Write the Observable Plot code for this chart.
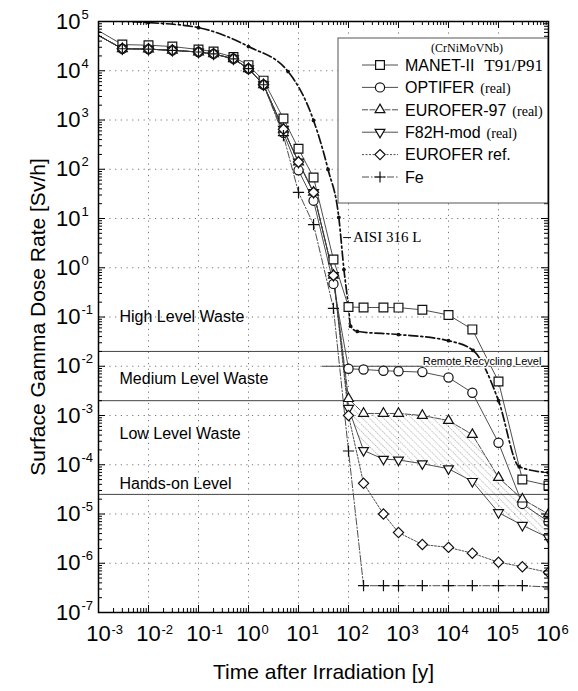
<!DOCTYPE html>
<html>
<head>
<meta charset="utf-8">
<script src="https://cdn.jsdelivr.net/npm/d3@7"></script>
<script src="https://cdn.jsdelivr.net/npm/@observablehq/plot@0.6"></script>
<style>
  body { margin: 0; background: #fff; }
</style>
</head>
<body>
<div id="chart"></div>
<script>
// Decay times after irradiation [years]
const times = [0.001, 0.003, 0.01, 0.03, 0.1, 0.2, 0.5, 1, 2, 5, 10, 20, 50, 100, 200, 500, 1e3, 3e3, 1e4, 3e4, 1e5, 3e5, 1e6];

// Surface gamma dose rate [Sv/h] for each steel
const manetII    = [6.5e4, 3.4e4, 3.3e4, 3.1e4, 2.7e4, 2.45e4, 1.9e4, 1.3e4, 6.3e3, 1.07e3, 2.6e2, 6.8e1, 1.47, 0.16, 0.156, 0.156, 0.155, 0.14, 0.11, 0.056, 4.9e-3, 5.0e-5, 3.8e-5];
const optifer    = [5.2e4, 2.8e4, 2.75e4, 2.6e4, 2.4e4, 2.2e4, 1.75e4, 1.1e4, 5.2e3, 5.5e2, 9.5e1, 2.3e1, 0.47, 8.9e-3, 8.6e-3, 8.1e-3, 7.9e-3, 7.6e-3, 5.9e-3, 2.9e-3, 2.8e-4, 1.6e-5, 7.0e-6];
const eurofer97  = [5.2e4, 2.8e4, 2.75e4, 2.6e4, 2.4e4, 2.2e4, 1.75e4, 1.1e4, 5.2e3, 6.5e2, 1.4e2, 3.4e1, 0.7, 2.2e-3, 1.1e-3, 1.1e-3, 1.1e-3, 1.0e-3, 7.9e-4, 4.1e-4, 5.5e-5, 2.0e-5, 1.0e-5];
const f82hMod    = [5.2e4, 2.8e4, 2.75e4, 2.6e4, 2.4e4, 2.2e4, 1.75e4, 1.1e4, 5.2e3, 6.5e2, 1.4e2, 3.4e1, 0.7, 1.4e-3, 1.95e-4, 1.3e-4, 1.25e-4, 1.05e-4, 8.3e-5, 4.6e-5, 1.07e-5, 5.9e-6, 3.3e-6];
const euroferRef = [5.2e4, 2.8e4, 2.75e4, 2.6e4, 2.4e4, 2.2e4, 1.75e4, 1.1e4, 5.2e3, 6.5e2, 1.4e2, 3.4e1, 0.7, 1.0e-3, 4.2e-5, 1.0e-5, 4.2e-6, 2.4e-6, 2.1e-6, 1.6e-6, 1.05e-6, 8.5e-7, 6.5e-7];
const iron       = [5.2e4, 2.8e4, 2.75e4, 2.6e4, 2.4e4, 2.2e4, 1.75e4, 1.1e4, 5.2e3, 4.8e2, 3.4e1, 7.5, 0.15, 1.9e-4, 3.5e-7, 3.5e-7, 3.5e-7, 3.5e-7, 3.5e-7, 3.5e-7, 3.5e-7, 3.5e-7, 3.3e-7];

// Austenitic reference steel
const aisiTimes = [0.001, 0.01, 0.1, 1, 6.2, 20, 39, 64, 81, 100, 110, 150, 1e3, 1e4, 3.1e4, 1e5, 2.6e5, 1e6];
const aisiDose  = [1.05e5, 9.5e4, 7.5e4, 3.1e4, 9.6e3, 980, 99, 10.5, 0.92, 0.16, 0.065, 0.051, 0.044, 0.033, 0.021, 2.0e-3, 9.1e-5, 6.9e-5];
const aisiName = "AISI 316 L";
const aisiLabelTime = 123;
const aisiLabelDose = 4.1;

const seriesNames = ["MANET-II", "OPTIFER", "EUROFER-97", "F82H-mod", "EUROFER ref.", "Fe"];
const seriesNotes = ["T91/P91", "(real)", "(real)", "(real)", "", ""];
const seriesValues = [manetII, optifer, eurofer97, f82hMod, euroferRef, iron];
const legendHeader = "(CrNiMoVNb)";

// Waste classification limits [Sv/h]
const wasteLevels = [2e-2, 2e-3, 2.5e-5];
const remoteRecyclingLevel = 1e-2;
const remoteRecyclingFrom = 30;
const remoteRecyclingText = "Remote Recycling Level";
const zoneLabels = ["High Level Waste", "Medium Level Waste", "Low Level Waste", "Hands-on Level"];
const zoneLabelDose = [0.1, 5.6e-3, 4.3e-4, 4.0e-5];

// Axis decades
const xDecades = [1e-3, 1e-2, 1e-1, 1, 1e1, 1e2, 1e3, 1e4, 1e5, 1e6];
const yDecades = [1e-7, 1e-6, 1e-5, 1e-4, 1e-3, 1e-2, 1e-1, 1, 1e1, 1e2, 1e3, 1e4, 1e5];
const xTitle = "Time after Irradiation [y]";
const yTitle = "Surface Gamma Dose Rate [Sv/h]";

// ---- drawing ----
const SANS = "'Liberation Sans', Arial, Helvetica, sans-serif";
const SERIF = "'Liberation Serif', 'Times New Roman', serif";

const styles = [
  {symbol: "square2",   r: 5.6, rotate: 0,   dash: null},
  {symbol: "circle",    r: 4.6, rotate: 0,   dash: null},
  {symbol: "triangle2", r: 4.7, rotate: 0,   dash: "6,1.5"},
  {symbol: "triangle2", r: 4.7, rotate: 180, dash: null},
  {symbol: "diamond2",  r: 4.6, rotate: 0,   dash: "2,1.5"},
  {symbol: "plus",      r: 3.7, rotate: 0,   dash: "7,2,1.5,2"}
];
const d3Symbols = {
  square2: d3.symbolSquare2, circle: d3.symbolCircle, triangle2: d3.symbolTriangle2,
  diamond2: d3.symbolDiamond2, plus: d3.symbolPlus
};

const series = seriesNames.map((name, i) =>
  times.map((t, j) => ({name, t, v: seriesValues[i][j]})));
const aisi = aisiTimes.map((t, j) => ({t, v: aisiDose[j]}));

// hatched band between EUROFER-97 and F82H-mod from 100 y on
const band = times.map((t, j) => ({t, hi: eurofer97[j], lo: f82hMod[j]})).filter(d => d.t >= 100);

const minorOf = (decades) => decades.slice(0, -1).flatMap(d => d3.range(2, 10).map(k => k * d));
const xMinor = minorOf(xDecades);
const yMinor = minorOf(yDecades);
const expo = d => String(Math.round(Math.log10(d)));

const W = 578, H = 691, mL = 98, mR = 30, mT = 21, mB = 79;
const innerH = H - mT - mB, innerW = W - mL - mR;
const MAJ = 7, MIN = 4;

const lineMarks = series.map((rows, i) => Plot.line(rows, {
  x: "t", y: "v", stroke: "#3a3a3a", strokeWidth: 0.9,
  strokeDasharray: styles[i].dash, clip: "frame"
}));
const dotMarks = series.map((rows, i) => Plot.dot(rows.filter(d => d.t > 0.001), {
  x: "t", y: "v", symbol: styles[i].symbol, r: styles[i].r, rotate: styles[i].rotate,
  stroke: "#111", strokeWidth: 1.2, fill: "white", clip: "frame"
}));

const chart = Plot.plot({
  width: W, height: H,
  marginLeft: mL, marginRight: mR, marginTop: mT, marginBottom: mB,
  x: {type: "log", domain: [1e-3, 1e6], axis: null},
  y: {type: "log", domain: [1e-7, 1e5], axis: null},
  style: {fontFamily: SANS, background: "white", color: "black"},
  marks: [
    // dotted decade grid
    Plot.ruleX(xDecades.slice(1, -1), {stroke: "#777", strokeWidth: 1, strokeDasharray: "1.2,4.5"}),
    Plot.ruleY(yDecades.slice(1, -1), {stroke: "#777", strokeWidth: 1, strokeDasharray: "1.2,4.5"}),
    // waste class limits
    Plot.ruleY(wasteLevels, {stroke: "#444", strokeWidth: 1}),
    Plot.ruleY([remoteRecyclingLevel], {x1: remoteRecyclingFrom, x2: 1e6, stroke: "#444", strokeWidth: 1}),
    // band
    Plot.areaY(band, {x: "t", y1: "lo", y2: "hi", fill: "url(#hatch)", clip: "frame"}),
    ...lineMarks,
    Plot.line(aisi, {x: "t", y: "v", stroke: "#111", strokeWidth: 1.7, strokeDasharray: "9,3,2,3", curve: "monotone-x", clip: "frame"}),
    Plot.dot(aisi, {x: "t", y: "v", r: 1.9, fill: "#111", clip: "frame"}),
    ...dotMarks,
    // annotations
    Plot.ruleY([aisiLabelDose], {x1: 80, x2: 115, stroke: "#111", strokeWidth: 1}),
    Plot.text([aisiName], {x: aisiLabelTime, y: aisiLabelDose, textAnchor: "start", fontFamily: SERIF, fontSize: 15}),
    Plot.text([remoteRecyclingText], {x: 4.7e4, y: 1.25e-2, fontSize: 11, stroke: "white", strokeWidth: 3, paintOrder: "stroke", fill: "black"}),
    Plot.text(zoneLabels, {y: (d, i) => zoneLabelDose[i], frameAnchor: "left", dx: 21, textAnchor: "start", fontSize: 16}),
    // tick marks, inward on all four sides
    Plot.ruleX(xDecades, {insetTop: innerH - MAJ, stroke: "black", ariaLabel: "axis-tick"}),
    Plot.ruleX(xDecades, {insetBottom: innerH - MAJ, stroke: "black", ariaLabel: "axis-tick"}),
    Plot.ruleX(xMinor, {insetTop: innerH - MIN, stroke: "black", ariaLabel: "axis-tick"}),
    Plot.ruleX(xMinor, {insetBottom: innerH - MIN, stroke: "black", ariaLabel: "axis-tick"}),
    Plot.ruleY(yDecades, {insetRight: innerW - MAJ, stroke: "black", ariaLabel: "axis-tick"}),
    Plot.ruleY(yDecades, {insetLeft: innerW - MAJ, stroke: "black", ariaLabel: "axis-tick"}),
    Plot.ruleY(yMinor, {insetRight: innerW - MIN, stroke: "black", ariaLabel: "axis-tick"}),
    Plot.ruleY(yMinor, {insetLeft: innerW - MIN, stroke: "black", ariaLabel: "axis-tick"}),
    Plot.frame({stroke: "black", strokeWidth: 1.5, ariaLabel: "axis-tick"}),
    // tick labels with exponents
    Plot.text(xDecades, {x: d => d, frameAnchor: "bottom", dy: 28, text: () => "10", fontSize: 22}),
    Plot.text(xDecades, {x: d => d, frameAnchor: "bottom", dy: 21, dx: 13, textAnchor: "start", text: expo, fontSize: 13}),
    Plot.text(yDecades, {y: d => d, frameAnchor: "left", dx: -18, textAnchor: "end", text: () => "10", fontSize: 22}),
    Plot.text(yDecades, {y: d => d, frameAnchor: "left", dx: -17, dy: -7, textAnchor: "start", text: expo, fontSize: 13}),
    // axis titles
    Plot.text([xTitle], {frameAnchor: "bottom", dy: 66, fontSize: 21}),
    Plot.text([yTitle], {frameAnchor: "left", dx: -60, rotate: -90, textAnchor: "middle", fontSize: 21})
  ]
});

const svg = d3.select(chart);

// hatch pattern used by the band
const pat = svg.insert("defs", ":first-child").append("pattern")
  .attr("id", "hatch").attr("patternUnits", "userSpaceOnUse")
  .attr("width", 5).attr("height", 5).attr("patternTransform", "rotate(-45)");
pat.append("line").attr("x1", 0).attr("y1", 0).attr("x2", 0).attr("y2", 5)
  .attr("stroke", "#666").attr("stroke-width", 0.8).attr("stroke-dasharray", "1.6,0.9");

// legend
const lg = svg.append("g").attr("font-family", SANS).attr("text-anchor", "start");
lg.append("rect").attr("x", 338).attr("y", 38).attr("width", 210).attr("height", 165)
  .attr("fill", "white").attr("stroke", "#555").attr("stroke-width", 1);
lg.append("text").attr("x", 467).attr("y", 48).attr("dy", "0.35em").attr("text-anchor", "middle")
  .attr("font-family", SERIF).attr("font-size", 12).text(legendHeader);
seriesNames.forEach((name, i) => {
  const y = 65 + i * 22.4;
  const s = styles[i];
  lg.append("line").attr("x1", 362).attr("x2", 398).attr("y1", y).attr("y2", y)
    .attr("stroke", "#3a3a3a").attr("stroke-width", 0.9)
    .attr("stroke-dasharray", s.dash);
  lg.append("path").attr("d", d3.symbol(d3Symbols[s.symbol], Math.PI * s.r * s.r)())
    .attr("transform", `translate(380,${y}) rotate(${s.rotate})`)
    .attr("fill", "white").attr("stroke", "#111").attr("stroke-width", 1.2);
  const tx = lg.append("text").attr("x", 405).attr("y", y).attr("dy", "0.36em")
    .attr("text-anchor", "start").attr("font-size", 16);
  tx.append("tspan").text(name);
  if (seriesNotes[i]) {
    const isGrade = i === 0;
    tx.append("tspan").attr("dx", isGrade ? 10 : 6).attr("font-family", SERIF)
      .attr("font-size", isGrade ? 17 : 14).text(seriesNotes[i]);
  }
});

// keep frame and tick marks above the legend box
svg.selectAll('[aria-label="axis-tick"]').raise();

document.getElementById("chart").appendChild(chart);
</script>
</body>
</html>
